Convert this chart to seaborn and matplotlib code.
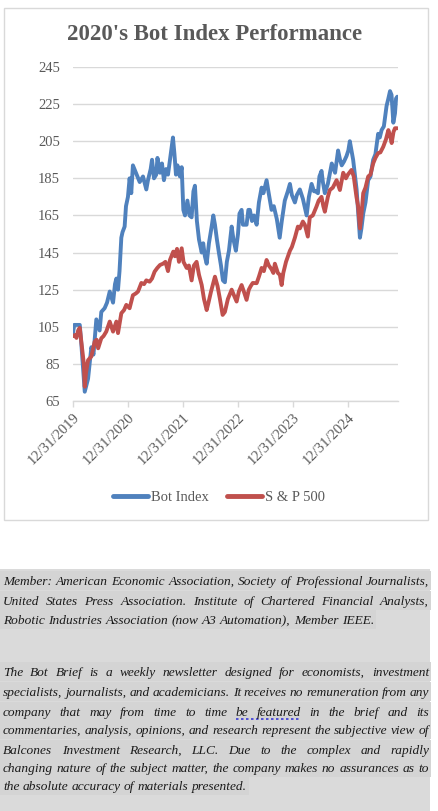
import matplotlib
matplotlib.use("Agg")
import matplotlib.pyplot as plt
import matplotlib.dates as mdates
from matplotlib.patches import Rectangle
from matplotlib.lines import Line2D
import numpy as np
import pandas as pd
import seaborn as sns

# ---- data ----
bot_dates = [
    "2020-01-01", "2020-01-10", "2020-02-16", "2020-02-27", "2020-03-20", "2020-04-11",
    "2020-05-03", "2020-05-17", "2020-06-05", "2020-06-27", "2020-07-08", "2020-07-30",
    "2020-08-15", "2020-09-02", "2020-09-24", "2020-10-07", "2020-10-16", "2020-10-27",
    "2020-11-06", "2020-11-18", "2020-11-26", "2020-12-10", "2020-12-19", "2021-01-01",
    "2021-01-12", "2021-01-23", "2021-02-03", "2021-02-23", "2021-03-20", "2021-04-11",
    "2021-05-03", "2021-05-14", "2021-06-01", "2021-06-10", "2021-06-23", "2021-07-08",
    "2021-07-16", "2021-08-02", "2021-08-15", "2021-08-28", "2021-09-11", "2021-09-24",
    "2021-10-07", "2021-10-27", "2021-11-06", "2021-11-16", "2021-11-26", "2021-12-12",
    "2021-12-24", "2022-01-04", "2022-01-15", "2022-01-31", "2022-02-14", "2022-02-28",
    "2022-03-12", "2022-03-22", "2022-04-04", "2022-04-18", "2022-05-06", "2022-05-16",
    "2022-05-27", "2022-06-08", "2022-06-23", "2022-07-13", "2022-07-22", "2022-08-02",
    "2022-08-15", "2022-08-28", "2022-09-11", "2022-09-24", "2022-10-07", "2022-10-20",
    "2022-11-03", "2022-11-21", "2022-12-03", "2022-12-19", "2023-01-02", "2023-01-12",
    "2023-01-26", "2023-02-04", "2023-02-28", "2023-03-12", "2023-03-22", "2023-04-05",
    "2023-04-18", "2023-05-06", "2023-05-21", "2023-06-08", "2023-06-20", "2023-07-11",
    "2023-07-23", "2023-08-13", "2023-08-28", "2023-09-17", "2023-10-06", "2023-10-20",
    "2023-11-09", "2023-11-29", "2023-12-13", "2023-12-26", "2024-01-15", "2024-01-28",
    "2024-02-17", "2024-03-08", "2024-04-02", "2024-04-17", "2024-05-05", "2024-05-21",
    "2024-06-03", "2024-06-16", "2024-06-26", "2024-07-10", "2024-07-19", "2024-08-01",
    "2024-08-21", "2024-09-16", "2024-10-08", "2024-10-28", "2024-11-10", "2024-11-21",
    "2024-12-06", "2024-12-23", "2025-01-04", "2025-01-14", "2025-02-05", "2025-02-28",
    "2025-03-12", "2025-03-22", "2025-04-01", "2025-04-13", "2025-04-28", "2025-05-16",
    "2025-05-31", "2025-06-18", "2025-07-03", "2025-07-21", "2025-08-01", "2025-08-13",
    "2025-08-28", "2025-09-15", "2025-09-27", "2025-10-08", "2025-10-18", "2025-10-30",
    "2025-11-10", "2025-11-17", "2025-11-25",
]
bot_values = [
    101, 106, 106, 95, 70, 77,
    94, 90, 109, 103, 113, 115,
    118, 124, 118, 128, 131, 125,
    135, 153, 156, 159, 170, 175,
    185, 177, 192, 188, 183, 186,
    179, 184, 190, 195, 185, 187,
    196, 188, 193, 184, 190, 187,
    195, 207, 198, 187, 192, 186,
    191, 168, 165, 173, 165, 164,
    178, 181, 162, 152, 145, 150,
    143, 139, 150, 160, 165, 160,
    152, 145, 138, 130, 129, 140,
    146, 159, 152, 146, 155, 166,
    168, 160, 160, 168, 168, 162,
    165, 160, 172, 180, 177, 184,
    178, 168, 170, 163, 153, 162,
    173, 178, 182, 176, 172, 176,
    179, 174, 165, 175, 182, 178,
    178, 177, 186, 189, 183, 177,
    182, 193, 188, 200, 195, 192,
    194, 197, 200, 205, 195, 179,
    165, 153, 158, 166, 172, 184,
    186, 195, 198, 209, 207, 211,
    213, 224, 228, 232, 230, 215,
    220, 228, 229,
]

spx_dates = [
    "2020-01-01", "2020-01-13", "2020-01-25", "2020-02-05", "2020-02-16", "2020-03-04",
    "2020-03-14", "2020-03-20", "2020-03-28", "2020-04-11", "2020-05-03", "2020-05-25",
    "2020-06-07", "2020-06-17", "2020-07-08", "2020-07-23", "2020-08-10", "2020-09-02",
    "2020-09-24", "2020-10-16", "2020-10-27", "2020-11-18", "2020-12-06", "2020-12-21",
    "2021-01-12", "2021-02-03", "2021-02-23", "2021-03-09", "2021-03-31", "2021-04-18",
    "2021-05-03", "2021-05-25", "2021-06-10", "2021-06-27", "2021-07-15", "2021-08-02",
    "2021-08-22", "2021-09-07", "2021-09-24", "2021-10-07", "2021-10-29", "2021-11-09",
    "2021-11-23", "2021-12-06", "2021-12-24", "2022-01-05", "2022-01-26", "2022-02-10",
    "2022-02-28", "2022-03-15", "2022-04-02", "2022-04-18", "2022-05-06", "2022-05-21",
    "2022-06-08", "2022-06-20", "2022-07-07", "2022-07-20", "2022-08-02", "2022-08-19",
    "2022-09-04", "2022-09-22", "2022-10-07", "2022-10-27", "2022-11-21", "2022-12-06",
    "2022-12-24", "2023-01-08", "2023-01-26", "2023-02-10", "2023-02-28", "2023-03-15",
    "2023-03-28", "2023-04-10", "2023-05-06", "2023-05-21", "2023-06-08", "2023-06-23",
    "2023-07-11", "2023-07-26", "2023-08-13", "2023-08-25", "2023-09-04", "2023-09-24",
    "2023-10-07", "2023-10-19", "2023-10-30", "2023-11-17", "2023-11-30", "2023-12-13",
    "2023-12-26", "2024-01-15", "2024-02-04", "2024-02-17", "2024-03-08", "2024-03-21",
    "2024-04-10", "2024-04-23", "2024-05-13", "2024-06-06", "2024-06-21", "2024-07-10",
    "2024-07-22", "2024-08-01", "2024-08-21", "2024-09-03", "2024-09-23", "2024-10-18",
    "2024-11-09", "2024-12-01", "2024-12-19", "2025-01-01", "2025-01-25", "2025-02-09",
    "2025-02-27", "2025-03-10", "2025-03-22", "2025-04-01", "2025-04-13", "2025-04-28",
    "2025-05-16", "2025-05-31", "2025-06-18", "2025-07-03", "2025-07-21", "2025-08-05",
    "2025-08-24", "2025-09-11", "2025-09-27", "2025-10-08", "2025-10-19", "2025-10-31",
    "2025-11-10", "2025-11-25",
]
spx_values = [
    100, 100.5, 99, 103, 104.4, 92.5,
    85, 72.7, 80, 87, 89, 97,
    98, 93.4, 98.8, 100, 102.4, 107.8,
    102.4, 107.8, 101.6, 112.3, 114, 116.8,
    115, 122, 123, 124, 128.6, 128,
    130, 129.3, 131, 134.7, 136.7, 138.3,
    139, 140, 135, 141, 145.5, 143,
    147, 140, 147.3, 140, 136.7, 138,
    130, 138, 140, 133, 127.5, 120,
    114, 118, 124, 128, 132, 127,
    120, 111.4, 113, 120, 125, 122,
    118.6, 124, 127.5, 124, 119.5, 125,
    127, 128.6, 128.5, 132, 136.7, 135,
    141, 138, 136, 134, 139, 134,
    133, 127.5, 134, 140, 143, 146,
    148, 153, 159, 158, 161.7, 160,
    153.6, 164, 165, 169.7, 173, 175,
    170, 167, 175, 178.7, 180, 184,
    178.7, 188, 185, 187, 189.5, 186,
    175, 170, 158, 165, 177, 180,
    186, 187, 193, 196, 198.6, 199,
    202, 206, 211, 208, 204, 210,
    212, 212,
]

series_names = ["Bot Index", "S & P 500"]
series_colors = ["#4f81bd", "#c0504d"]
y_ticks = list(range(65, 246, 20))
x_tick_dates = ["2019-12-31", "2020-12-31", "2021-12-31", "2022-12-31", "2023-12-31", "2024-12-31"]

title = "2020's Bot Index Performance"
member_lines = [
    "Member: American Economic Association, Society of Professional Journalists,",
    "United States Press Association. Institute of Chartered Financial Analysts,",
    "Robotic Industries Association (now A3 Automation), Member IEEE.",
]
brief_lines = [
    "The Bot Brief is a weekly newsletter designed for economists, investment",
    "specialists, journalists, and academicians. It receives no remuneration from any",
    "company that may from time to time be featured in the brief and its",
    "commentaries, analysis, opinions, and research represent the subjective view of",
    "Balcones Investment Research, LLC. Due to the complex and rapidly",
    "changing nature of the subject matter, the company makes no assurances as to",
    "the absolute accuracy of materials presented.",
]

df = pd.concat([
    pd.DataFrame({"date": pd.to_datetime(bot_dates), "value": bot_values, "series": series_names[0]}),
    pd.DataFrame({"date": pd.to_datetime(spx_dates), "value": spx_values, "series": series_names[1]}),
], ignore_index=True)

# ---- figure ----
sns.set_theme(style="white")
plt.rcParams["font.family"] = ["Liberation Serif", "DejaVu Serif"]

W, H = 438, 811
fig = plt.figure(figsize=(W / 100, H / 100), dpi=100)
fig.patch.set_facecolor("white")

# chart frame
fig.patches.append(Rectangle((4 / W, 1 - 520 / H), 424 / W, 512 / H, transform=fig.transFigure,
                             facecolor="white", edgecolor="#d9d9d9", lw=1, zorder=-2))

ax = fig.add_axes([72.7 / W, 1 - 401 / H, 325 / W, 334 / H])
ax.set_zorder(1)
ax.set_facecolor("none")

sns.lineplot(data=df, x="date", y="value", hue="series", palette=series_colors,
             hue_order=series_names, lw=2.8, ax=ax, zorder=3)

ax.set_ylim(65, 245)
ax.set_yticks(y_ticks)
ax.set_xlim(pd.Timestamp("2019-12-31"), pd.Timestamp("2025-11-28"))
ax.set_xticks(pd.to_datetime(x_tick_dates))
ax.xaxis.set_major_formatter(mdates.DateFormatter("%m/%d/%Y"))
ax.grid(axis="y", color="#d9d9d9", lw=1)
ax.set_axisbelow(True)
for s in ["top", "right", "left"]:
    ax.spines[s].set_visible(False)
ax.spines["bottom"].set_color("#d9d9d9")
ax.spines["bottom"].set_linewidth(1)
ax.set_xlabel("")
ax.set_ylabel("")
ax.tick_params(axis="y", length=0, pad=9, labelsize=10.5, labelcolor="#595959")
ax.tick_params(axis="x", length=4, width=1, color="#d9d9d9", pad=3,
               labelsize=10.5, labelcolor="#595959", bottom=True)
for lab in ax.get_xticklabels():
    lab.set_rotation(45)
    lab.set_ha("right")
    lab.set_va("top")
    lab.set_rotation_mode("anchor")

handles, labels = ax.get_legend_handles_labels()
ax.legend(handles, labels, loc="center", bbox_to_anchor=(219 / W, 1 - 497 / H),
          bbox_transform=fig.transFigure, ncol=2, frameon=False, fontsize=10.5,
          handlelength=2.4, handletextpad=0.15, columnspacing=1.3,
          labelcolor="#595959")
for h in ax.get_legend().get_lines():
    h.set_linewidth(3.5)

fig.text(215 / W, 1 - 35 / H, title, ha="center", va="center", fontsize=16.5,
         fontweight="bold", color="#595959")

# ---- disclaimer box ----
fig.patches.append(Rectangle((0, 0), 430 / W, (H - 569) / H, transform=fig.transFigure,
                             facecolor="#dadada", edgecolor="none", zorder=-2))

renderer = fig.canvas.get_renderer()
text_kw = dict(fontstyle="italic", color="#1a1a1a", va="baseline", ha="left")


def measure(words, size):
    out = []
    for w in words:
        t = fig.text(0, 0, w, fontsize=size, **text_kw)
        out.append(t.get_window_extent(renderer).width)
        t.remove()
    return out


all_lines = member_lines + brief_lines
x0, x1 = 3, 429
base = 11
space = 0.25 * base * 1.389
widest = max(sum(measure(l.split(), base)) + space * (len(l.split()) - 1) for l in all_lines)
size = base * min(1.0, (x1 - x0) / widest)

baselines = [585, 605, 624, 676, 696, 716, 734, 754, 772, 790]
justify = [True, True, False, True, True, True, True, True, True, False]
underline = None
for line, yb, just in zip(all_lines, baselines, justify):
    words = line.split()
    widths = measure(words, size)
    gap = (x1 - x0 - sum(widths)) / (len(words) - 1) if just else 0.25 * size * 1.389
    x = x0
    pos = []
    for w, wd in zip(words, widths):
        fig.text(x / W, 1 - yb / H, w, fontsize=size, **text_kw)
        pos.append((x, x + wd))
        x += wd + gap
    # line highlight
    fig.patches.append(Rectangle((0, 1 - (yb + 5) / H), (x - gap + 2) / W, 19 / H,
                                 transform=fig.transFigure, facecolor="#d4d4d4",
                                 edgecolor="none", zorder=-1))
    if "featured" in words:
        i = words.index("be")
        underline = (pos[i][0], pos[i + 1][1], yb + 3)

if underline:
    ux0, ux1, uy = underline
    fig.lines.append(Line2D([ux0 / W, ux1 / W], [1 - uy / H, 1 - uy / H], transform=fig.transFigure,
                            color="#3b3bd6", lw=1.2, ls=(0, (1.5, 1.5))))

fig.savefig("out.png", dpi=100)
